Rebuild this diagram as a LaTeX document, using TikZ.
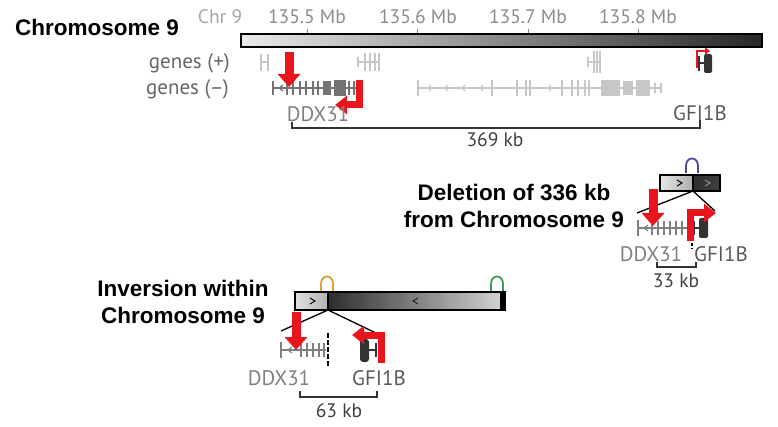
\documentclass[tikz,border=0pt]{standalone}
\usepackage{fontspec}
\setmainfont{PT Sans}
\setsansfont{Liberation Sans}
\usetikzlibrary{arrows.meta}
\definecolor{arrowred}{HTML}{E8161C}
\definecolor{loopblue}{HTML}{4A4AA0}
\definecolor{loopgold}{HTML}{D9A035}
\definecolor{loopgreen}{HTML}{3E9A55}
\begin{document}
\begin{tikzpicture}[x=1pt, y=-1pt,
    title/.style={font=\sffamily\bfseries\fontsize{22.5}{27}\selectfont, align=center, inner sep=0pt},
    axislabel/.style={font=\fontsize{19.5}{22}\selectfont, text=black!45, inner sep=0pt},
    genelabel/.style={font=\fontsize{21}{24}\selectfont, inner sep=0pt},
    sizelabel/.style={font=\fontsize{19.5}{22}\selectfont, text=black!75, inner sep=0pt},
    chrbar/.style={draw=black, line width=1.5pt},
    zoomline/.style={draw=black, line width=1.3pt},
    exon/.style={line width=2.4pt},
    intron/.style={line width=1.6pt},
    bigarrow/.style={draw=arrowred, line width=9pt, -{Triangle[width=22pt,length=13pt]}},
    bentarrow/.style={draw=arrowred, line width=7pt, -{Triangle[width=18pt,length=12pt]}},
    scalebar/.style={draw=black!80, line width=1.3pt},
    loopmark/.style={line width=1.8pt}]
    \useasboundingbox (0,0) rectangle (778,427);

    % Chromosome 9 overview
    \node[title, anchor=west] (chr) at (15,27) {Chromosome 9};
    \node[axislabel, text=black!35] (chrnum) at (220,17) {Chr 9};
    \node[axislabel] (mbA) at (307,17) {135.5 Mb};
    \node[axislabel] (mbB) at (418,17) {135.6 Mb};
    \node[axislabel] (mbC) at (528,17) {135.7 Mb};
    \node[axislabel] (mbD) at (638,17) {135.8 Mb};
    \foreach \tx in {307,417,528,638}
        \draw[black!50, line width=1pt] (\tx,29) -- (\tx,34);
    \shade[left color=black!8, right color=black!85] (241,34) rectangle (762,47);
    \draw[chrbar] (241,34) rectangle (762,47);

    \node[genelabel, text=black!60, anchor=east] (plus) at (230,63) {genes (+)};
    \node[genelabel, text=black!60, anchor=east] (minus) at (229,89) {genes (–)};

    % genes (+)
    \draw[black!22, intron] (261,62) -- (268,62);
    \foreach \bx in {261,268} \draw[black!22, exon] (\bx,54) -- (\bx,71);
    \draw[black!22, intron] (358,62) -- (380,62);
    \draw[black!22, exon] (358,57) -- (358,67);
    \foreach \bx in {365,370,375,379} \draw[black!22, exon] (\bx,53) -- (\bx,71);
    \draw[black!22, intron] (588,62) -- (600,62);
    \draw[black!22, exon] (588,57) -- (588,67);
    \foreach \bx in {594,597,600} \draw[black!22, exon] (\bx,51) -- (\bx,73);
    % GFI1B
    \draw[black!80, line width=2pt] (699,56) -- (699,71);
    \draw[black!80, line width=2pt] (699,63) -- (705,63);
    \fill[black!80, rounded corners=2pt] (704,54) rectangle (712,73);
    \draw[arrowred, line width=2.5pt, -{Triangle[width=7pt,length=5pt]}] (697,68) |- (710,51);

    % genes (-)
    \draw[black!55, intron] (273,88) -- (356,88);
    \foreach \bx in {273,287,293,300,306,313,318,349,354} \draw[black!55, exon] (\bx,81) -- (\bx,95);
    \fill[black!55] (323,81) rectangle (331,95);
    \fill[black!55] (334,80) rectangle (346,96);
    \draw[black!55, line width=1.2pt] (283,85) -- (279,88) -- (283,91);
    \draw[black!22, intron] (418,88) -- (661,88);
    \foreach \bx in {418,492,517,526,530,562,572,578,585,589} \draw[black!22, exon] (\bx,80) -- (\bx,96);
    \foreach \bx in {655,661} \draw[black!22, exon] (\bx,83) -- (\bx,93);
    \fill[black!22] (601,80) rectangle (620,96);
    \fill[black!22] (623,81) rectangle (633,95);
    \fill[black!22] (636,80) rectangle (650,96);
    \foreach \cx in {428,445,462,480,548} \draw[black!22, line width=1.2pt] (\cx+3,85) -- (\cx,88) -- (\cx+3,91);

    \draw[bigarrow] (289,52) -- (289,87);
    \draw[bentarrow] (359,80) |- (335,105);

    \node[genelabel, text=black!50] (ddxA) at (318,114) {DDX31};
    \node[genelabel, text=black!65] (gfiA) at (700,113) {GFI1B};
    \draw[scalebar] (292,122) -- (292,128) -- (700,128) -- (700,120);
    \node[sizelabel] (kbA) at (495,140) {369 kb};

    % Deletion
    \node[title] (deletion) at (514,206) {Deletion of 336 kb\\from Chromosome 9};
    \shade[left color=black!10, right color=black!32] (660,175) rectangle (693,191);
    \shade[left color=black!82, right color=black!75] (693,175) rectangle (720,191);
    \draw[chrbar] (660,175) rectangle (720,191);
    \draw[chrbar] (693,175) -- (693,191);
    \draw[black, line width=1pt] (677,180) -- (682,183) -- (677,186);
    \draw[black!45, line width=1pt] (705,180) -- (710,183) -- (705,186);
    \draw[loopblue, loopmark] (686,173) -- (686,166) .. controls (686,156) and (698,156) .. (698,166) -- (698,173);

    \coordinate (dbreak) at (693,191);
    \coordinate (dleft) at (637,213);
    \coordinate (dright) at (715,211);
    \draw[zoomline] (dleft) -- (dbreak) -- (dright);

    \draw[black!50, intron] (638,228) -- (688,228);
    \draw[black!50, exon] (638,220) -- (638,236);
    \foreach \bx in {652,658,664,670,676,682} \draw[black!50, exon] (\bx,221) -- (\bx,235);
    \draw[black!50, line width=1.2pt] (648,225) -- (644,228) -- (648,231);
    \draw[black!80, exon] (694,221) -- (694,235);
    \draw[black!80, intron] (694,228) -- (700,228);
    \fill[black!80, rounded corners=2pt] (699,218) rectangle (708,238);
    \draw[black, line width=1.5pt, dash pattern=on 3pt off 2pt] (692,238) -- (692,249);

    \draw[bigarrow] (653,189) -- (653,226);
    \draw[bentarrow] (690,241) |- (716,213);

    \node[genelabel, text=black!50] (ddxB) at (651,254) {DDX31};
    \node[genelabel, text=black!65] (gfiB) at (721,254) {GFI1B};
    \draw[scalebar] (657,262) -- (657,267) -- (696,267) -- (696,262);
    \node[sizelabel] (kbB) at (676,281) {33 kb};

    % Inversion
    \node[title] (inversion) at (183,302) {Inversion within\\Chromosome 9};
    \shade[left color=black!12, right color=black!30] (295,292) rectangle (328,310);
    \shade[left color=black!82, right color=black!18] (328,292) rectangle (500,310);
    \fill[black] (500,292) rectangle (505,310);
    \draw[chrbar] (295,292) rectangle (505,310);
    \draw[chrbar] (328,292) -- (328,310);
    \draw[black, line width=1pt] (310,298) -- (315,301) -- (310,304);
    \draw[black!85, line width=1pt] (418,298) -- (413,301) -- (418,304);
    \draw[loopgold, loopmark] (321,291) -- (321,284) .. controls (321,274) and (333,274) .. (333,284) -- (333,291);
    \draw[loopgreen, loopmark] (491,291) -- (491,284) .. controls (491,274) and (503,274) .. (503,284) -- (503,291);

    \coordinate (ibreak) at (328,310);
    \coordinate (ileft) at (281,331);
    \coordinate (iright) at (378,334);
    \draw[zoomline] (ileft) -- (ibreak) -- (iright);

    \draw[black!50, intron] (281,350) -- (326,350);
    \draw[black!50, exon] (281,342) -- (281,358);
    \foreach \bx in {301,307,313,319,324} \draw[black!50, exon] (\bx,343) -- (\bx,357);
    \draw[black!50, line width=1.2pt] (292,347) -- (288,350) -- (292,353);
    \draw[black, line width=2.5pt, dash pattern=on 5pt off 2pt] (328,333) -- (328,367);
    \fill[black!80, rounded corners=3pt] (360,339) rectangle (369,362);
    \draw[black!80, intron] (369,350) -- (376,350);
    \draw[black!80, exon] (376,343) -- (376,357);

    \draw[bigarrow] (296,312) -- (296,350);
    \draw[bentarrow] (381,363) |- (352,335);

    \node[genelabel, text=black!50] (ddxC) at (279,378) {DDX31};
    \node[genelabel, text=black!65] (gfiC) at (379,378) {GFI1B};
    \draw[scalebar] (300,391) -- (300,397) -- (377,397) -- (377,391);
    \node[sizelabel] (kbC) at (339,411) {63 kb};
\end{tikzpicture}
\end{document}
